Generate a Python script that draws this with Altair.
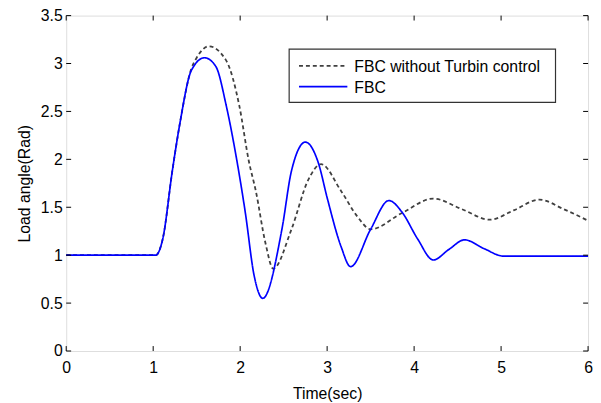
import altair as alt
import pandas as pd

# Gray dashed: FBC without Turbin control
t_gray = [0, 1.03, 1.11, 1.22, 1.31, 1.44, 1.50, 1.64, 1.84, 1.99, 2.10, 2.18, 2.29, 2.38,
          2.59, 2.78, 2.93, 3.16, 3.35, 3.50, 3.86, 4.22, 4.55, 4.87, 5.15, 5.44, 5.72, 6.0]
v_gray = [1.0, 1.0, 1.17, 1.88, 2.39, 2.95, 3.06, 3.18, 3.03, 2.56, 1.98, 1.67, 1.13, 0.86,
          1.27, 1.78, 1.95, 1.67, 1.40, 1.27, 1.44, 1.59, 1.48, 1.37, 1.47, 1.58, 1.48, 1.36]

# Blue solid: FBC
t_blue = [0, 1.03, 1.11, 1.22, 1.31, 1.44, 1.59, 1.72, 1.84, 1.95, 2.06, 2.16, 2.26, 2.48,
          2.59, 2.75, 2.90, 3.00, 3.16, 3.27, 3.50, 3.71, 3.86, 4.04, 4.22, 4.40, 4.58, 4.80,
          5.03, 6.0]
v_blue = [1.0, 1.0, 1.17, 1.88, 2.39, 2.93, 3.06, 2.97, 2.56, 2.05, 1.44, 0.79, 0.55, 1.27,
          1.88, 2.18, 1.96, 1.60, 1.09, 0.88, 1.27, 1.57, 1.45, 1.17, 0.95, 1.06, 1.16, 1.07,
          0.99, 0.99]

series = ["FBC without Turbin control", "FBC"]
colors = ["#404040", "#0000ff"]
dashes = [[4, 3], [1, 0]]
x_ticks = [0, 1, 2, 3, 4, 5, 6]
y_ticks = [0, 0.5, 1, 1.5, 2, 2.5, 3, 3.5]

W, H = 529, 340
FONT = "Liberation Sans"
FS = 16

df = pd.concat([
    pd.DataFrame({"t": t_gray, "v": v_gray, "s": series[0]}),
    pd.DataFrame({"t": t_blue, "v": v_blue, "s": series[1]}),
])

xs = alt.Scale(domain=[0, 6], nice=False, zero=False)
ys = alt.Scale(domain=[0, 3.5], nice=False, zero=False)

color = alt.Color("s:N", scale=alt.Scale(domain=series, range=colors), legend=None)
dash = alt.StrokeDash("s:N", scale=alt.Scale(domain=series, range=dashes), legend=None)

x_axis = alt.Axis(values=x_ticks, format="~g", title="Time(sec)", grid=False, domain=False,
                  ticks=False, labelFont=FONT, labelFontSize=FS, labelColor="black",
                  labelPadding=9, labelFlush=False,
                  titleFont=FONT, titleFontSize=FS, titleFontWeight="normal",
                  titleColor="black", titlePadding=10)
y_axis = alt.Axis(values=y_ticks, format="~g", title="Load angle(Rad)", grid=False,
                  domain=False, ticks=False, labelFont=FONT, labelFontSize=FS,
                  labelColor="black", labelPadding=4, labelFlush=False,
                  titleFont=FONT, titleFontSize=FS, titleFontWeight="normal",
                  titleColor="black", titlePadding=8)

base = alt.Chart(df)
gray = base.transform_filter(alt.datum.s == series[0]).mark_line(
    interpolate="monotone", strokeWidth=1.8).encode(
    x=alt.X("t:Q", scale=xs, axis=x_axis),
    y=alt.Y("v:Q", scale=ys, axis=y_axis),
    color=color, strokeDash=dash)
blue = base.transform_filter(alt.datum.s == series[1]).mark_line(
    interpolate="monotone", strokeWidth=1.7).encode(
    x=alt.X("t:Q", scale=xs), y=alt.Y("v:Q", scale=ys), color=color, strokeDash=dash)

xt = pd.DataFrame({"xt": x_ticks})
yt = pd.DataFrame({"yt": y_ticks})
tick_b = alt.Chart(xt).mark_rule(color="black", strokeWidth=1).encode(
    x=alt.X("xt:Q", scale=xs), y=alt.value(H), y2=alt.value(H - 5))
tick_t = alt.Chart(xt).mark_rule(color="black", strokeWidth=1).encode(
    x=alt.X("xt:Q", scale=xs), y=alt.value(0), y2=alt.value(5))
tick_l = alt.Chart(yt).mark_rule(color="black", strokeWidth=1).encode(
    y=alt.Y("yt:Q", scale=ys), x=alt.value(0), x2=alt.value(5))
tick_r = alt.Chart(yt).mark_rule(color="black", strokeWidth=1).encode(
    y=alt.Y("yt:Q", scale=ys), x=alt.value(W), x2=alt.value(W - 5))

# Legend box (MATLAB style, drawn manually)
LX, LY, LW, LH = 226, 34, 270, 54
leg_df = pd.DataFrame({"label": series})
box = alt.Chart(leg_df.head(1)).mark_rect(fill="white", stroke="#333333", strokeWidth=1.2).encode(
    x=alt.value(LX), x2=alt.value(LX + LW), y=alt.value(LY), y2=alt.value(LY + LH))
leg_layers = [box]
row_y = [LY + 17, LY + 38]
for i, name in enumerate(series):
    ldf = pd.DataFrame({"label": [name]})
    leg_layers.append(alt.Chart(ldf).mark_rule(color=colors[i], strokeDash=dashes[i],
                                               strokeWidth=1.6).encode(
        x=alt.value(LX + 10), x2=alt.value(LX + 59), y=alt.value(row_y[i])))
    leg_layers.append(alt.Chart(ldf).mark_text(align="left", baseline="middle", font=FONT,
                                               fontSize=FS, color="black").encode(
        x=alt.value(LX + 66), y=alt.value(row_y[i] + 1), text="label:N"))

chart = alt.layer(gray, blue, tick_b, tick_t, tick_l, tick_r, *leg_layers).properties(
    width=W, height=H,
    autosize=alt.AutoSizeParams(type="none"),
    padding={"left": 59, "top": 5, "right": 5, "bottom": 50},
).configure_view(stroke="black", strokeWidth=1.2).configure(background="white")

chart.save("out.html", embed_options={"renderer": "svg", "actions": False})
